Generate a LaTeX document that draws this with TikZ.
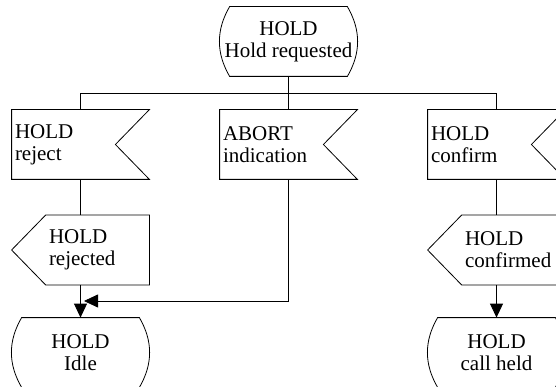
\documentclass[tikz,border=0pt]{standalone}
\usepackage{fontspec}
\setmainfont{Liberation Serif}
\usetikzlibrary{arrows.meta}

\tikzset{
  box/.style={minimum height=69pt, inner sep=3pt,
              font=\fontsize{21pt}{22pt}\selectfont},
  state/.style={box, minimum width=137pt, inner xsep=0pt, align=center},
  insig/.style={box, text width=131pt, align=left},
  outsig/.style={box, text width=97pt, align=left},
  flow/.style={-{Triangle[length=14pt,width=13pt]}}
}

\begin{document}
\begin{tikzpicture}[x=1pt,y=-1pt,line width=0.8pt]
\useasboundingbox (0,0) rectangle (556,387);
\clip (0,0) rectangle (556,387);
% nodes
\node[state]  (req)   at (288.5,41.5)  {HOLD\\Hold requested};
\node[insig]  (rej)   at (80.5,144.5)  {HOLD\\reject};
\node[insig]  (abort) at (288.5,144.5) {ABORT\\indication};
\node[insig]  (conf)  at (496.5,144.5) {HOLD\\confirm};
\node[outsig] (rejd)  at (97.5,250)    {HOLD\\rejected};
\node[outsig] (confd) at (513.5,250)   {HOLD\\confirmed};
\node[state]  (idle)  at (80.5,352.5)  {HOLD\\Idle};
\node[state]  (held)  at (496.5,352.5) {HOLD\\call held};
\coordinate (bus)  at (288.5,93);
\coordinate (join) at (84,301);
% outlines
\foreach \n in {req,idle,held}
  \draw ([xshift=10pt]\n.north west) -- ([xshift=-10pt]\n.north east)
        to[out=-60,in=60] ([xshift=-10pt]\n.south east)
        -- ([xshift=10pt]\n.south west) to[out=120,in=-120] cycle;
\foreach \n in {rej,abort,conf}
  \draw (\n.north west) -- (\n.north east) -- ([xshift=-34pt]\n.east)
        -- (\n.south east) -- (\n.south west) -- cycle;
\foreach \n in {rejd,confd}
  \draw (\n.north west) -- (\n.north east) -- (\n.south east)
        -- (\n.south west) -- ([xshift=-34pt]\n.west) -- cycle;
% connectors
\draw (req.south) -- (abort.north);
\draw (rej.north) -- (rej.north |- bus) -- (conf.north |- bus) -- (conf.north);
\draw (rej.south) -- (rej.south |- rejd.north);
\draw (conf.south) -- (conf.south |- confd.north);
\draw[flow] (rej.south |- rejd.south) -- (idle.north);
\draw[flow] (conf.south |- confd.south) -- (held.north);
\draw[flow] (abort.south) |- (join);
\end{tikzpicture}
\end{document}
